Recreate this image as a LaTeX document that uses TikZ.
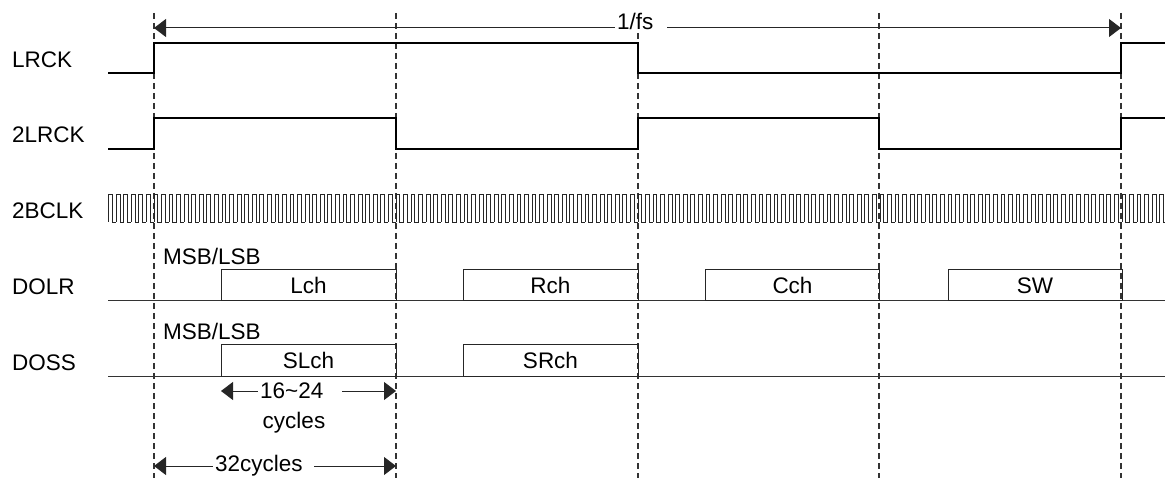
\documentclass[tikz,border=0pt]{standalone}
\usepackage{fontspec}
\setmainfont{Liberation Sans}
\usetikzlibrary{arrows.meta}
\begin{document}
\begin{tikzpicture}[x=1pt,y=-1pt,
  every node/.style={font=\fontsize{22.5}{27}\selectfont, inner sep=0pt},
  sig/.style={line width=1.1pt, black, line join=miter},
  thin/.style={line width=1pt, black!80},
  guide/.style={line width=1.1pt, black!80, dash pattern=on 6pt off 4pt},
  dbox/.style={draw=black!85, line width=1pt, minimum height=31pt},
  dim/.style={line width=1pt, black!85, {Triangle[length=12pt,width=18pt]}-{Triangle[length=12pt,width=18pt]}},
  dimlbl/.style={fill=white, inner xsep=2pt, inner ysep=1pt, anchor=west},
  signame/.style={anchor=west}
]
\useasboundingbox (0,0) rectangle (1165,478);
\clip (0,0) rectangle (1165,478);
% guide lines
\foreach \gx/\gn in {154/g1,396/g2,638/g3,879/g4,1121/g5}{
  \coordinate (\gn t) at (\gx,13);
  \coordinate (\gn b) at (\gx,478);
  \draw[guide] (\gn t) -- (\gn b);
}
% signal names
\node[signame] (nLRCK) at (12,60) {LRCK};
\node[signame] (n2LRCK) at (12,135) {2LRCK};
\node[signame] (n2BCLK) at (12,211) {2BCLK};
\node[signame] (nDOLR) at (12,287) {DOLR};
\node[signame] (nDOSS) at (12,363) {DOSS};
% LRCK
\draw[sig] (108,73) -- (154,73) -- (154,43) -- (638,43) -- (638,73) -- (1121,73) -- (1121,43) -- (1165,43);
% 2LRCK
\draw[sig] (108,149) -- (154,149) -- (154,118) -- (396,118) -- (396,149) -- (638,149) -- (638,118) -- (879,118) -- (879,149) -- (1121,149) -- (1121,118) -- (1165,118);
% 2BCLK
\foreach \k in {-6,...,133}{
  \pgfmathsetmacro\xa{154+\k*7.5625}
  \pgfmathsetmacro\xb{\xa+3.78125}
  \pgfmathsetmacro\xc{\xa+7.5625}
  \draw[line width=0.9pt, black!85] (\xa,222) -- (\xa,194) -- (\xb,194) -- (\xb,222) -- (\xc,222);
}
% DOLR
\draw[thin] (108,301) -- (1165,301);
\node[dbox, minimum width=175pt] (Lch) at (308.5,285.5) {Lch};
\node[dbox, minimum width=175pt] (Rch) at (550.5,285.5) {Rch};
\node[dbox, minimum width=174pt] (Cch) at (792.5,285.5) {Cch};
\node[dbox, minimum width=174pt] (SW) at (1035,285.5) {SW};
\node[anchor=west] (msb1) at (163,256) {MSB/LSB};
% DOSS
\draw[thin] (108,376) -- (1165,376);
\node[dbox, minimum width=175pt] (SLch) at (308.5,360.5) {SLch};
\node[dbox, minimum width=175pt] (SRch) at (550.5,360.5) {SRch};
\node[anchor=west] (msb2) at (163,331) {MSB/LSB};
% dimension arrows
\coordinate (fsA) at (154,28);
\coordinate (fsB) at (1121,28);
\draw[dim] (fsA) -- (fsB);
\node[dimlbl] (fslbl) at (615,21) {1/fs\rule{12pt}{0pt}};
\coordinate (cA) at (221,391);
\coordinate (cB) at (396,391);
\draw[dim] (cA) -- (cB);
\node[dimlbl] (clbl) at (258,391) {16\textasciitilde24\rule{17pt}{0pt}};
\node (cyc) at (294,423) {cycles};
\coordinate (dA) at (154,466);
\coordinate (dB) at (396,466);
\draw[dim] (dA) -- (dB);
\node[dimlbl] (dlbl) at (213,466) {32cycles\rule{9pt}{0pt}};
\end{tikzpicture}
\end{document}
